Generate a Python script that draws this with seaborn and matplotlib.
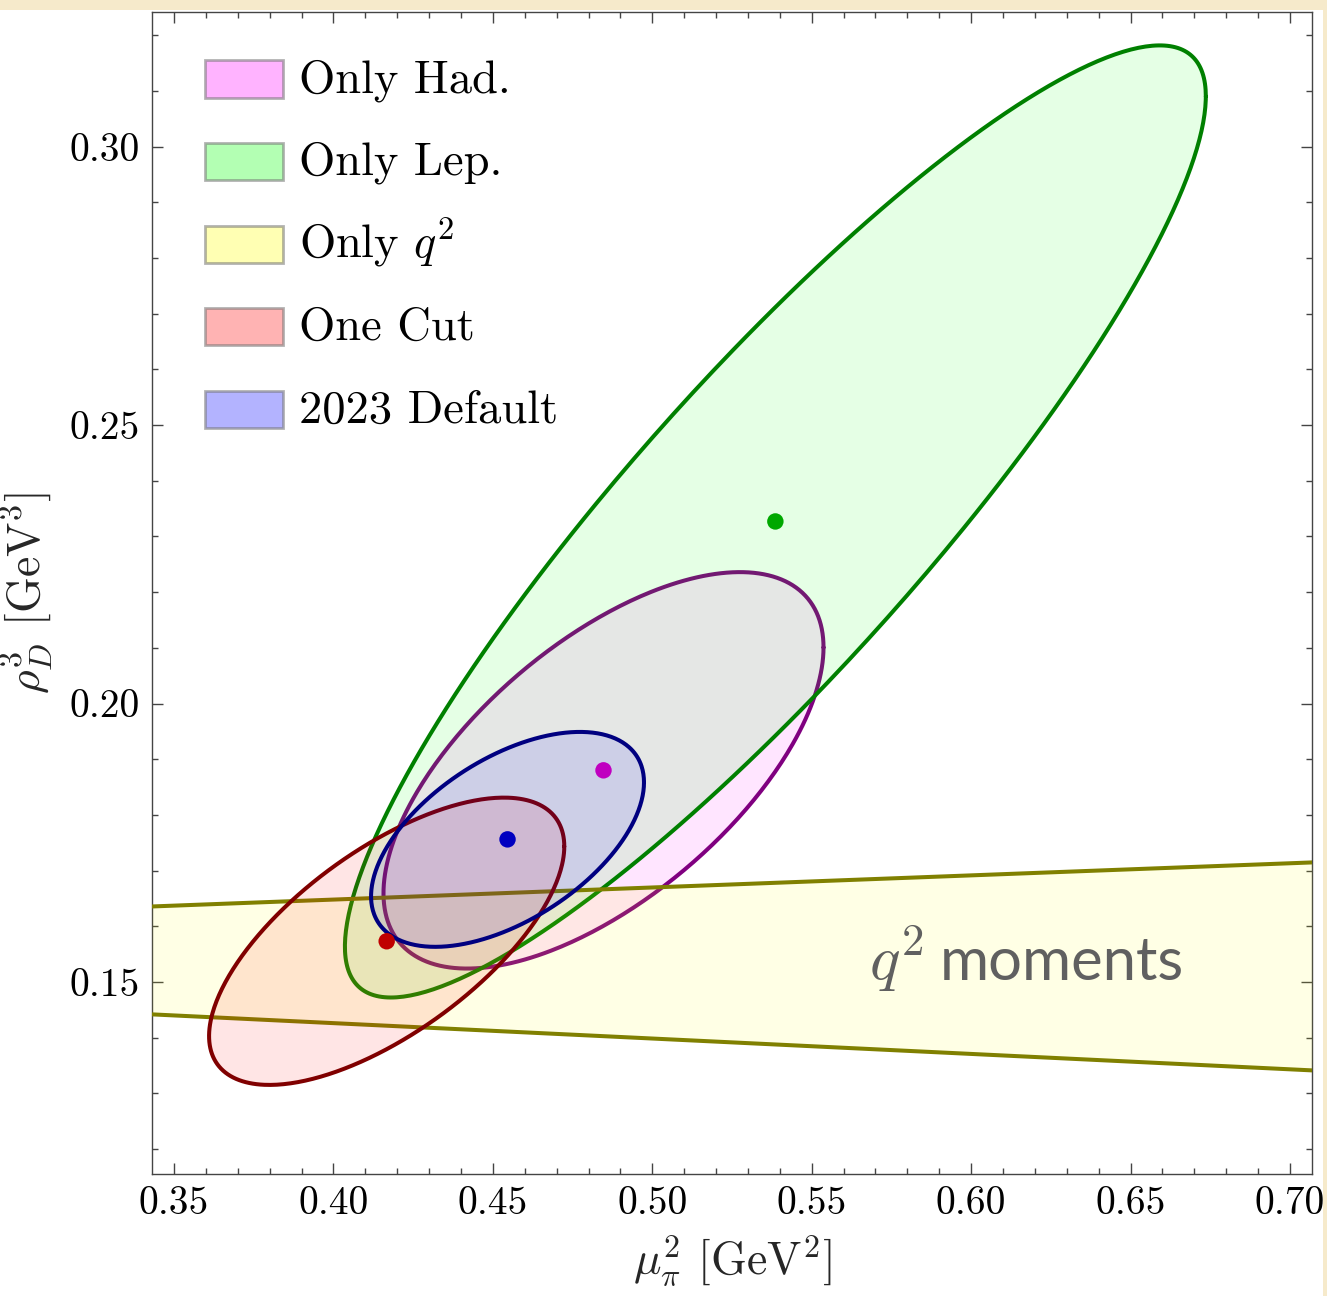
import numpy as np
import pandas as pd
import matplotlib
matplotlib.use("Agg")
import matplotlib.pyplot as plt
from matplotlib.patches import Rectangle
from matplotlib.ticker import MultipleLocator, FormatStrFormatter
import seaborn as sns

# Fit results: central values and 1-sigma contour shapes (half extents + correlation)
fits = ["Only Had.", "Only Lep.", "One Cut", "2023 Default"]
mu_pi2_central = [0.4847, 0.5386, 0.4167, 0.4546]
rho_d3_central = [0.1880, 0.2327, 0.1573, 0.1756]
mu_pi2_halfwidth = [0.0690, 0.1350, 0.0557, 0.0428]
rho_d3_halfwidth = [0.0356, 0.0855, 0.0258, 0.0193]
correlation = [0.62, 0.893, 0.66, 0.53]

# q^2-moments band: edges at both ends of the mu_pi^2 range
q2_mu_pi2 = [0.3431, 0.7069]
q2_upper = [0.16355, 0.17146]
q2_lower = [0.14417, 0.13411]

legend_labels = ["Only Had.", "Only Lep.", "Only $q^2$", "One Cut", "2023 Default"]
legend_face = {"Only Had.": "#ffb3ff", "Only Lep.": "#b3ffb3", "Only $q^2$": "#ffffb3",
               "One Cut": "#ffb3b3", "2023 Default": "#b3b3ff"}
region_face = {"Only Had.": "#ff00ff", "Only Lep.": "#00ff00", "Only $q^2$": "#ffff00",
               "One Cut": "#ff0000", "2023 Default": "#0000ff"}
edge = {"Only Had.": "#800080", "Only Lep.": "#008000", "Only $q^2$": "#808000",
        "One Cut": "#800000", "2023 Default": "#000080"}
dot = {"Only Had.": "#c000c0", "Only Lep.": "#00a800", "One Cut": "#c00000",
       "2023 Default": "#0000c0"}
FILL_ALPHA = 0.1

sns.set_theme(style="ticks")
plt.rcParams.update({
    "font.family": "serif",
    "font.serif": ["cmr10"],
    "mathtext.fontset": "cm",
    "axes.formatter.use_mathtext": True,
    "axes.unicode_minus": False,
})

W, H = 1327, 1296
fig = plt.figure(figsize=(W / 100, H / 100), dpi=100)
fig.patch.set_facecolor("white")
# warm strip along the top and right border of the canvas
fig.patches.append(Rectangle((0, 1 - 10 / H), 1, 10 / H, transform=fig.transFigure,
                             facecolor="#f6eacb", edgecolor="none", zorder=0))
fig.patches.append(Rectangle((1 - 4 / W, 0), 4 / W, 1, transform=fig.transFigure,
                             facecolor="#f6eacb", edgecolor="none", zorder=0))

AX_L, AX_T, AX_R, AX_B = 152, 12, 1312, 1174
ax = fig.add_axes([AX_L / W, 1 - AX_B / H, (AX_R - AX_L) / W, (AX_B - AX_T) / H])


def contour(i, n=400):
    t = np.linspace(0, 2 * np.pi, n)
    r = correlation[i]
    x = mu_pi2_central[i] + mu_pi2_halfwidth[i] * np.cos(t)
    y = rho_d3_central[i] + rho_d3_halfwidth[i] * (r * np.cos(t) + np.sqrt(1 - r ** 2) * np.sin(t))
    return x, y


def draw_fit(name, z):
    i = fits.index(name)
    x, y = contour(i)
    ax.fill(x, y, color=region_face[name], alpha=FILL_ALPHA, lw=0, zorder=z)
    ax.plot(x, y, color=edge[name], lw=2.9, zorder=z + 0.5, solid_joinstyle="round")


draw_fit("Only Had.", 2)
draw_fit("Only Lep.", 3)

# q^2 band
band = pd.DataFrame({"x": q2_mu_pi2, "upper": q2_upper, "lower": q2_lower})
ax.fill_between(band["x"], band["lower"], band["upper"], color=region_face["Only $q^2$"],
                alpha=FILL_ALPHA, lw=0, zorder=4)
sns.lineplot(data=band, x="x", y="upper", color=edge["Only $q^2$"], lw=2.9, ax=ax, zorder=4.5)
sns.lineplot(data=band, x="x", y="lower", color=edge["Only $q^2$"], lw=2.9, ax=ax, zorder=4.5)

draw_fit("One Cut", 5)
draw_fit("2023 Default", 6)

centers = pd.DataFrame({"fit": fits, "mu": mu_pi2_central, "rho": rho_d3_central})
sns.scatterplot(data=centers, x="mu", y="rho", hue="fit", palette=dot, s=140,
                edgecolor="none", legend=False, ax=ax, zorder=10)

ax.text(0.568, 0.1504, "$q^2$", fontsize=46, color="#606060", va="baseline", ha="left", zorder=11)
ax.text(0.590, 0.1504, "moments", fontsize=43, family="Lato", color="#606060",
        va="baseline", ha="left", zorder=11)

ax.set_xlim(0.3431, 0.7069)
ax.set_ylim(0.1155, 0.3242)
ax.xaxis.set_major_locator(MultipleLocator(0.05))
ax.xaxis.set_minor_locator(MultipleLocator(0.01))
ax.yaxis.set_major_locator(MultipleLocator(0.05))
ax.yaxis.set_minor_locator(MultipleLocator(0.01))
ax.xaxis.set_major_formatter(FormatStrFormatter("%.2f"))
ax.yaxis.set_major_formatter(FormatStrFormatter("%.2f"))
ax.tick_params(which="both", direction="in", top=True, right=True, color="#444444",
               width=1.0, labelsize=28.5, labelcolor="black")
ax.tick_params(which="major", length=8, pad=9)
ax.tick_params(which="minor", length=4.3)
for s in ax.spines.values():
    s.set_color("#444444")
    s.set_linewidth(1.0)

ax.set_xlabel(r"$\mu_\pi^2$ [GeV$^2$]", fontsize=33, labelpad=8)
ax.set_ylabel(r"$\rho_D^3$ [GeV$^3$]", fontsize=33, labelpad=10)


# Legend: evenly spaced swatches with labels, laid out in axes fractions
def fx(px):
    return (px - AX_L) / (AX_R - AX_L)


def fy(py):
    return (AX_B - py) / (AX_B - AX_T)


row_top, row_pitch = 79, 82.5
box_left, box_w, box_h, text_left = 205, 78, 37, 299
for k, label in enumerate(legend_labels):
    cy = row_top + k * row_pitch
    ax.add_patch(Rectangle((fx(box_left), fy(cy + box_h / 2)), fx(box_left + box_w) - fx(box_left),
                           fy(cy - box_h / 2) - fy(cy + box_h / 2), transform=ax.transAxes,
                           facecolor=legend_face[label], edgecolor=(0.45, 0.45, 0.45, 0.55),
                           lw=2, zorder=12, clip_on=False))
    ax.text(fx(text_left), fy(cy + 13.5), label, transform=ax.transAxes, fontsize=33.5,
            va="baseline", ha="left", color="black", zorder=12)

fig.savefig("out.png", dpi=100)
